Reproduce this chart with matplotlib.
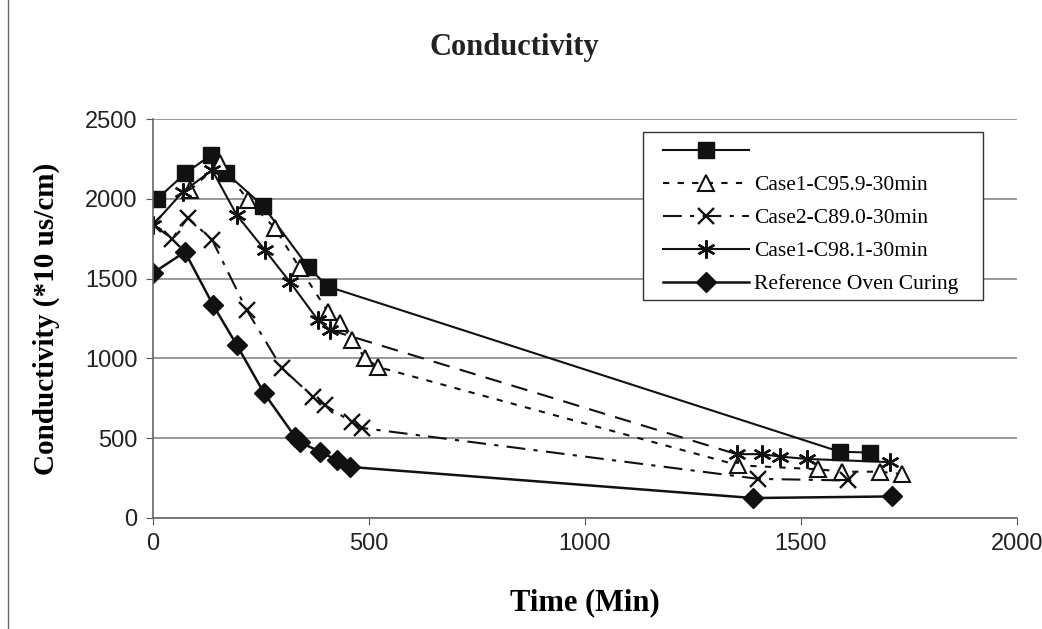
import matplotlib
matplotlib.use("Agg")
import matplotlib.pyplot as plt
from matplotlib.lines import Line2D
from matplotlib.patches import Rectangle

# ---- data ----
sq_x = [10, 75, 135, 170, 255, 360, 405, 1590, 1660]
sq_y = [2000, 2160, 2275, 2160, 1955, 1570, 1450, 415, 410]

tri_x = [86, 155, 220, 282, 340, 405, 433, 461, 491, 521, 1355, 1540, 1595, 1683, 1734]
tri_y = [2055, 2224, 1992, 1817, 1566, 1291, 1222, 1115, 1002, 946, 330, 305, 290, 290, 275]

x_x = [0, 44, 81, 137, 217, 298, 371, 398, 460, 484, 1401, 1609]
x_y = [1840, 1750, 1880, 1742, 1303, 940, 758, 708, 601, 564, 245, 235]

st_x = [0, 69, 137, 194, 259, 317, 382, 410, 1351, 1409, 1451, 1513, 1706]
st_y = [1836, 2043, 2180, 1898, 1679, 1479, 1240, 1178, 400, 400, 385, 370, 350]

di_x = [0, 74, 139, 194, 257, 329, 340, 387, 426, 456, 1389, 1711]
di_y = [1535, 1667, 1335, 1084, 783, 508, 476, 414, 363, 320, 125, 135]

labels = ["", "Case1-C95.9-30min", "Case2-C89.0-30min",
          "Case1-C98.1-30min", "Reference Oven Curing"]
title = "Conductivity"
xlabel = "Time (Min)"
ylabel = "Conductivity (*10 us/cm)"
xticks = [0, 500, 1000, 1500, 2000]
yticks = [0, 500, 1000, 1500, 2000, 2500]

serif = ["Liberation Serif", "DejaVu Serif"]
sans = ["Liberation Sans", "DejaVu Sans"]

fig = plt.figure(figsize=(10.42, 6.29), dpi=100)
ax = fig.add_axes([0.1468, 0.1765, 0.8292, 0.6343])

k = "#111111"
lw = 1.5
h1, = ax.plot(sq_x, sq_y, color=k, lw=lw, marker="s", ms=12, mfc=k, mec=k, label=" ")
h2, = ax.plot(tri_x, tri_y, color=k, lw=lw, ls=(0, (3, 4)), marker="^", ms=12,
              mfc="white", mec=k, mew=1.5, label=labels[1])
h3, = ax.plot(x_x, x_y, color=k, lw=lw, ls=(0, (9, 4, 2, 4)), marker="x", ms=12,
              mew=1.7, label=labels[2])
# star series: solid, with the long gap drawn in long dashes
ax.plot(st_x[:8], st_y[:8], color=k, lw=lw)
ax.plot(st_x[7:9], st_y[7:9], color=k, lw=lw, ls=(0, (8, 5)))
ax.plot(st_x[8:], st_y[8:], color=k, lw=lw)
ax.plot(st_x, st_y, ls="none", marker=(6, 2, 0), ms=13, mec=k, mew=1.7)
h4, = ax.plot([], [], color=k, lw=lw, marker=(6, 2, 0), ms=13, mec=k, mew=1.7,
              label=labels[3])
h5, = ax.plot(di_x, di_y, color=k, lw=1.8, marker="D", ms=10, mfc=k, mec=k, label=labels[4])

ax.set_xlim(0, 2000)
ax.set_ylim(0, 2500)
ax.set_xticks(xticks)
ax.set_yticks(yticks)
ax.tick_params(labelsize=17, length=5, color="#555555", pad=6)
for t in ax.get_xticklabels() + ax.get_yticklabels():
    t.set_family(sans)
    t.set_color("#222222")
ax.yaxis.grid(True, color="#888888", lw=1.2)
ax.set_axisbelow(True)
for s in ["top", "right"]:
    ax.spines[s].set_visible(False)
for s in ["left", "bottom"]:
    ax.spines[s].set_color("#666666")
    ax.spines[s].set_linewidth(1.2)

ax.set_xlabel(xlabel, family=serif, fontsize=22, fontweight="bold", labelpad=24)
ax.set_ylabel(ylabel, family=serif, fontsize=21, fontweight="bold", labelpad=18)
fig.text(0.494, 0.925, title, family=serif, fontsize=22, fontweight="bold",
         ha="center", va="center", color="#222222")

# legend frame drawn separately (wider horizontal padding than vertical)
ax.add_patch(Rectangle((0.567, 0.546), 0.394, 0.421, transform=ax.transAxes,
                       facecolor="white", edgecolor="#333333", lw=1.0, zorder=4))
leg = ax.legend(handles=[h1, h2, h3, h4, h5], loc="upper left",
                bbox_to_anchor=(0.590, 0.942), prop={"family": serif, "size": 15.5},
                handlelength=4.0, handletextpad=0.25, labelspacing=0.6,
                borderpad=0.0, borderaxespad=0, frameon=False)
leg.set_zorder(5)

fig.lines.append(Line2D([0.008, 0.008], [0.0, 1.0], transform=fig.transFigure,
                        color="#666666", lw=1.0))

fig.savefig("out.png", dpi=100)
